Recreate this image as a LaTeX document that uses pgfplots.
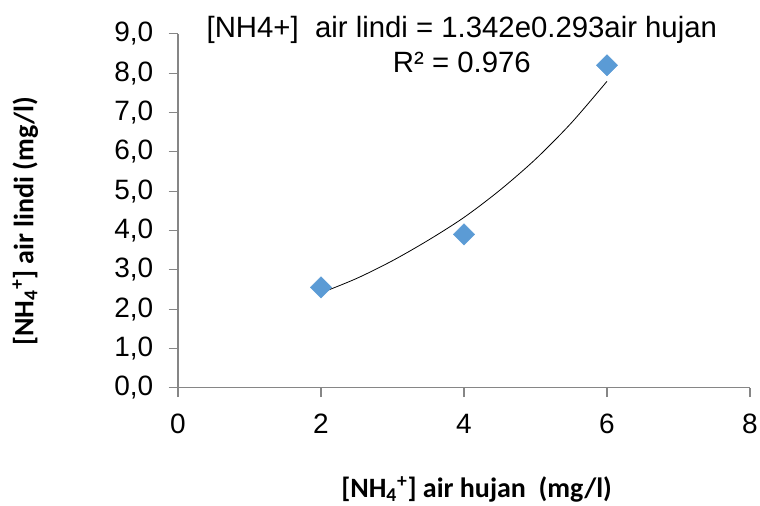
\documentclass[border=0pt]{standalone}
\usepackage{pgfplots}
\pgfplotsset{compat=1.18}
\usepackage{fontspec}
\setmainfont{Liberation Sans}
\newfontfamily\calibri{Carlito}
\definecolor{ptblue}{HTML}{5B9BD5}
\definecolor{axgray}{HTML}{868686}

\begin{document}
\begin{tikzpicture}
% fix the page to the reference frame (1 px = 0.75 pt)
\useasboundingbox (-133.5pt,-88.7pt) rectangle (436.5pt,290.8pt);
\begin{axis}[
  at={(0,0)}, anchor=south west,
  scale only axis,
  width=429pt, height=265.5pt,
  xmin=0, xmax=8, ymin=0, ymax=9,
  xtick={0,2,4,6,8},
  ytick={0,1,...,9},
  axis x line*=bottom, axis y line*=left,
  axis line style={axgray, line width=0.8pt, -},
  tick style={axgray, line width=0.8pt},
  tick align=outside, major tick length=7pt,
  font=\fontsize{21}{25}\selectfont,
  /pgf/number format/assume math mode=true,
  y tick label style={/pgf/number format/.cd, fixed, fixed zerofill, precision=1, use comma, /tikz/.cd, xshift=-8pt},
  x tick label style={yshift=-9pt},
  xlabel={\calibri\bfseries [NH\textsubscript{4}\textsuperscript{+}] air hujan\ \ (mg/l)},
  ylabel={\calibri\bfseries [NH\textsubscript{4}\textsuperscript{+}] air lindi (mg/l)},
  label style={font=\fontsize{21}{25}\selectfont},
  xlabel style={at={(axis description cs:0.522,-0.288)}, anchor=center},
  ylabel style={at={(axis description cs:-0.267,0.47)}, anchor=center},
  clip=false,
]
% trendline
\addplot[black, line width=0.6pt, smooth] coordinates {
  (2,2.41) (2.5,2.78) (3,3.23) (3.5,3.75) (4,4.33)
  (4.5,5.02) (5,5.81) (5.5,6.73) (6,7.79)
};
% measured points
\addplot[only marks, mark=square*, mark size=5.6pt,
  mark options={fill=ptblue, draw=ptblue, rotate=45}] coordinates {
  (2,2.55) (4,3.90) (6,8.20)
};
\node[align=center, font=\fontsize{22}{26}\selectfont] at (axis cs:3.97,8.72)
  {[NH4+]\ \ air lindi = 1.342e0.293air hujan\\R² = 0.976};
\end{axis}
\end{tikzpicture}
\end{document}
